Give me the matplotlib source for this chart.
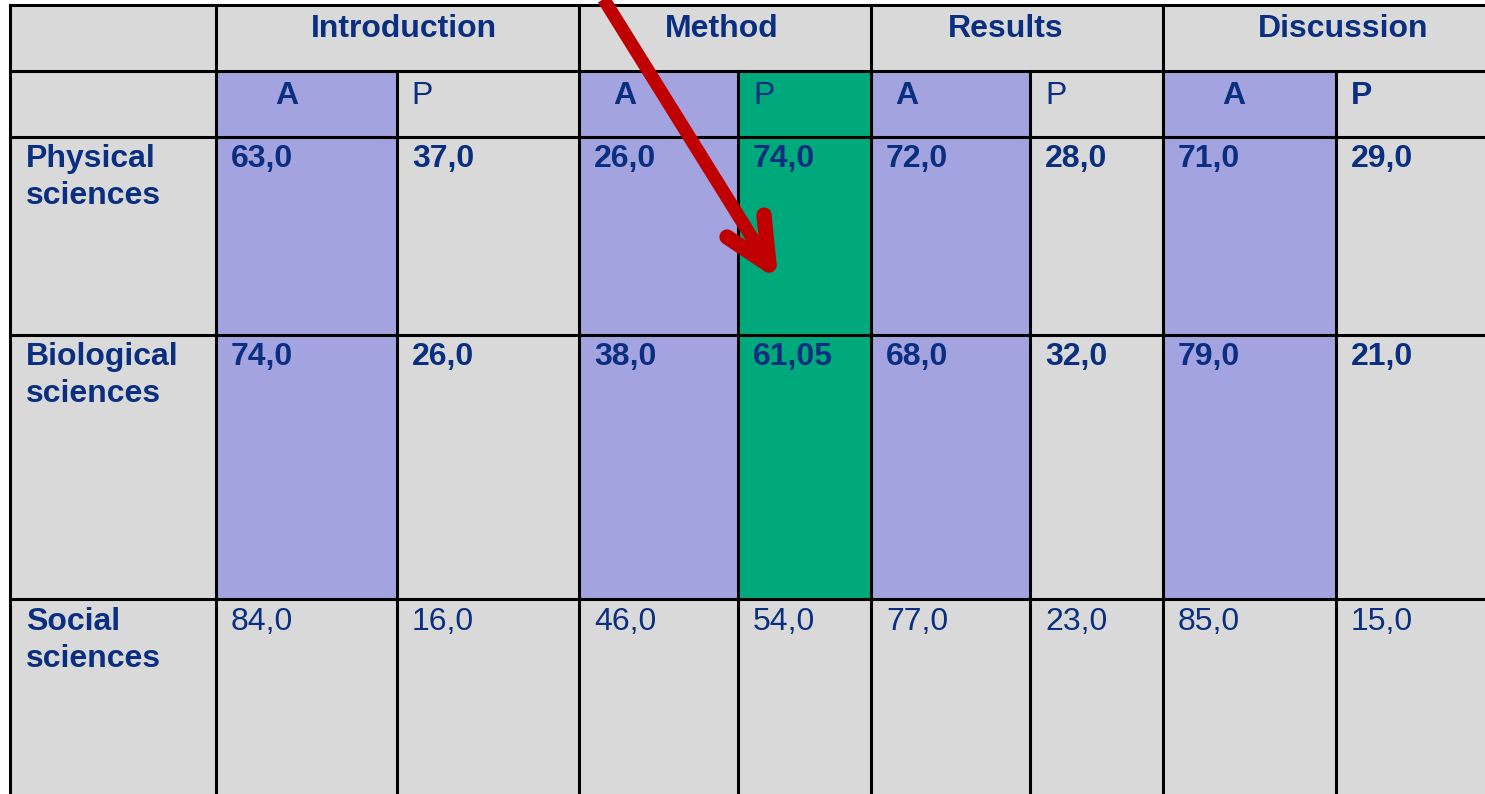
import matplotlib
matplotlib.use("Agg")
import matplotlib.pyplot as plt
from matplotlib.patches import Rectangle

# ---- data ----
sections = ["Introduction", "Method", "Results", "Discussion"]
subcols = ["A", "P", "A", "P", "A", "P", "A", "P"]
row_labels = ["Physical\nsciences", "Biological\nsciences", "Social\nsciences"]
physical = ["63,0", "37,0", "26,0", "74,0", "72,0", "28,0", "71,0", "29,0"]
biological = ["74,0", "26,0", "38,0", "61,05", "68,0", "32,0", "79,0", "21,0"]
social = ["84,0", "16,0", "46,0", "54,0", "77,0", "23,0", "85,0", "15,0"]
rows = [physical, biological, social]

# ---- layout (pixels) ----
W, H = 1485, 794
col_edges = [10, 216, 397, 579, 738, 871, 1030, 1163, 1336, 1500]
row_edges = [5, 71, 137, 335, 599, 820]
sec_x = [404, 722, 1006, 1343]
sub_x = [275, 411, 613, 753, 895, 1045, 1222, 1351]
sub_bold = [True, False, True, False, True, False, True, True]
row_base = [167, 365, 630]
row_bold = [True, True, False]

GRAY = "#D9D9D9"
LAV = "#A3A3DF"
GREEN = "#00A97B"
TXT = "#0B2F80"
RED = "#C00000"
FS = 23
FONT = "Liberation Sans"

fig = plt.figure(figsize=(W / 100, H / 100), dpi=100)
ax = fig.add_axes([0, 0, 1, 1])
ax.set_xlim(0, W)
ax.set_ylim(H, 0)
ax.axis("off")
fig.patch.set_facecolor("white")


def cell_color(r, c):
    # r: 0 header, 1 subheader, 2.. data rows ; c: 0 label col, 1..8 data cols
    if r == 0 or c == 0 or r == 4:
        return GRAY
    if c == 4:
        return GREEN
    if subcols[c - 1] == "A":
        return LAV
    return GRAY


# fills
for r in range(len(row_edges) - 1):
    for c in range(len(col_edges) - 1):
        x0, x1 = col_edges[c], col_edges[c + 1]
        y0, y1 = row_edges[r], row_edges[r + 1]
        ax.add_patch(Rectangle((x0, y0), x1 - x0, y1 - y0, facecolor=cell_color(r, c),
                               edgecolor="none", zorder=1))

LW = 2.2
# horizontal lines
for y in row_edges[:-1]:
    ax.plot([col_edges[0], col_edges[-1]], [y, y], color="black", lw=LW, zorder=3)
# vertical lines
for i, x in enumerate(col_edges[:-1]):
    if i in (2, 4, 6, 8):
        ax.plot([x, x], [row_edges[1], row_edges[-1]], color="black", lw=LW, zorder=3)
    else:
        ax.plot([x, x], [row_edges[0], row_edges[-1]], color="black", lw=LW, zorder=3)

# section headers
for s, x in zip(sections, sec_x):
    ax.text(x, 37, s, ha="center", va="baseline", fontsize=FS, fontweight="bold",
            color=TXT, family=FONT, zorder=4)

# sub headers
for s, x, b in zip(subcols, sub_x, sub_bold):
    ax.text(x, 104, s, ha="left", va="baseline", fontsize=FS,
            fontweight="bold" if b else "normal", color=TXT, family=FONT, zorder=4)

# row labels & values
for lab, vals, yb, b in zip(row_labels, rows, row_base, row_bold):
    l1, l2 = lab.split("\n")
    ax.text(26, yb, l1, ha="left", va="baseline", fontsize=FS, fontweight="bold",
            color=TXT, family=FONT, zorder=4)
    ax.text(26, yb + 37, l2, ha="left", va="baseline", fontsize=FS, fontweight="bold",
            color=TXT, family=FONT, zorder=4)
    for c, v in enumerate(vals):
        ax.text(col_edges[c + 1] + 15, yb, v, ha="left", va="baseline", fontsize=FS,
                fontweight="bold" if b else "normal", color=TXT, family=FONT, zorder=4)

# red arrow
tip = (769, 265)
ax.plot([598, tip[0]], [-10, tip[1]], color=RED, lw=9.5, solid_capstyle="butt", zorder=5)
ax.plot([727, tip[0]], [237, tip[1]], color=RED, lw=11, solid_capstyle="round", zorder=5)
ax.plot([764, tip[0]], [215, tip[1]], color=RED, lw=11, solid_capstyle="round", zorder=5)
ax.plot([tip[0] - 3], [tip[1] - 4], marker="o", ms=9, color=RED, zorder=5)

fig.savefig("out.png", dpi=100)
